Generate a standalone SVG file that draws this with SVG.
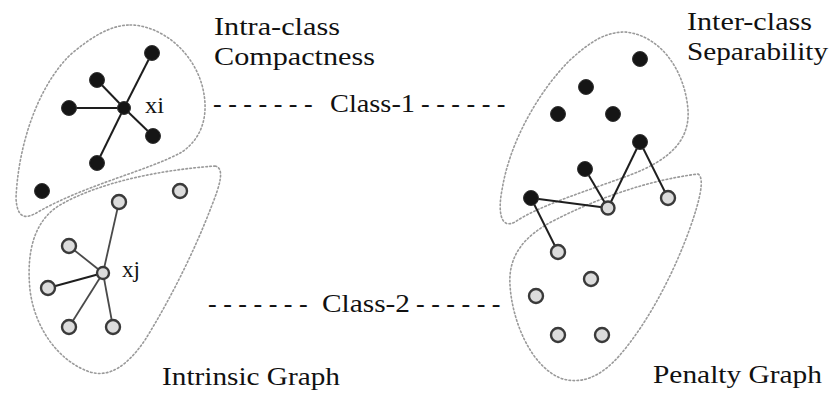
<svg xmlns="http://www.w3.org/2000/svg" width="831" height="393" viewBox="0 0 831 393">
<style>
.blob{fill:none;stroke:#9a9a9a;stroke-width:1.6;stroke-dasharray:1.6 2.4;stroke-linecap:round}
.b{fill:#151515;stroke:#333;stroke-width:1}
.g{fill:#dcdcdc;stroke:#3a3a3a;stroke-width:2.4}
.e{stroke:#1e1e1e;stroke-width:2;fill:none}
.eg{stroke:#4a4a4a;stroke-width:1.8;fill:none}
.t{font-size:26px;fill:#111}
.s{font-size:24px;fill:#111}
</style>
<rect width="831" height="393" fill="#fff"/>
<g id="regions">
<path id="intrinsic-class1" class="blob" d="M130,25 C160,25 192,50 202,85 C210,115 202,138 182,152 C150,170 85,185 38,212 C25,220 17,218 16,198 C18,150 35,90 70,55 C90,38 110,25 130,25 Z"/>
<path id="intrinsic-class2" class="blob" d="M215,166 C225,168 220,185 212,205 C195,250 170,300 145,340 C128,365 110,378 90,372 C60,362 35,330 30,290 C26,250 35,220 60,205 C100,182 160,170 215,166 Z"/>
<path id="penalty-class1" class="blob" d="M625,32 C660,35 685,70 688,110 C690,140 670,160 630,175 C590,190 540,205 515,222 C500,230 498,210 502,190 C510,140 540,90 570,60 C590,42 605,32 625,32 Z"/>
<path id="penalty-class2" class="blob" d="M698,174 C705,178 700,200 690,228 C675,270 650,320 620,355 C600,378 580,385 560,378 C530,365 512,320 510,285 C508,255 525,235 555,220 C600,197 650,180 698,174 Z"/>
</g>
<g id="connectors">
<line class="e" x1="124" y1="108" x2="152" y2="53"/>
<line class="e" x1="124" y1="108" x2="97" y2="80"/>
<line class="e" x1="124" y1="108" x2="69" y2="108"/>
<line class="e" x1="124" y1="108" x2="153" y2="136"/>
<line class="e" x1="124" y1="108" x2="97" y2="163"/>
<line class="eg" x1="103" y1="273" x2="119" y2="202"/>
<line class="eg" x1="103" y1="273" x2="69" y2="246"/>
<line class="e" x1="103" y1="273" x2="48" y2="288"/>
<line class="eg" x1="103" y1="273" x2="69" y2="327"/>
<line class="eg" x1="103" y1="273" x2="113" y2="327"/>
<line class="e" x1="531" y1="198" x2="608" y2="208"/>
<line class="e" x1="531" y1="198" x2="558" y2="252"/>
<line class="e" x1="585" y1="169" x2="608" y2="208"/>
<line class="e" x1="640" y1="142" x2="608" y2="208"/>
<line class="e" x1="640" y1="142" x2="668" y2="198"/>
</g>
<g id="intrinsic-nodes">
<g id="xi"><circle class="b" cx="124" cy="108" r="6.5"/></g>
<g id="i1a"><circle class="b" cx="152" cy="53" r="7.5"/></g>
<g id="i1b"><circle class="b" cx="97" cy="80" r="7.5"/></g>
<g id="i1c"><circle class="b" cx="69" cy="108" r="7.5"/></g>
<g id="i1d"><circle class="b" cx="153" cy="136" r="7.5"/></g>
<g id="i1e"><circle class="b" cx="97" cy="163" r="7.5"/></g>
<g id="i1f"><circle class="b" cx="42" cy="191" r="7.5"/></g>
<g id="xj"><circle class="g" cx="103" cy="273" r="6"/></g>
<g id="i2a"><circle class="g" cx="180" cy="191" r="7"/></g>
<g id="i2b"><circle class="g" cx="119" cy="202" r="7"/></g>
<g id="i2c"><circle class="g" cx="69" cy="246" r="7"/></g>
<g id="i2d"><circle class="g" cx="48" cy="288" r="7"/></g>
<g id="i2e"><circle class="g" cx="69" cy="327" r="7"/></g>
<g id="i2f"><circle class="g" cx="113" cy="327" r="7"/></g>
</g>
<g id="penalty-nodes">
<g id="p1a"><circle class="b" cx="640" cy="59" r="7.5"/></g>
<g id="p1b"><circle class="b" cx="586" cy="87" r="7.5"/></g>
<g id="p1c"><circle class="b" cx="558" cy="114" r="7.5"/></g>
<g id="p1d"><circle class="b" cx="613" cy="114" r="7.5"/></g>
<g id="p1e"><circle class="b" cx="640" cy="142" r="7.5"/></g>
<g id="p1f"><circle class="b" cx="585" cy="169" r="7.5"/></g>
<g id="p1g"><circle class="b" cx="531" cy="198" r="7.5"/></g>
<g id="p2a"><circle class="g" cx="608" cy="208" r="6.5"/></g>
<g id="p2b"><circle class="g" cx="668" cy="198" r="7"/></g>
<g id="p2c"><circle class="g" cx="558" cy="252" r="7"/></g>
<g id="p2d"><circle class="g" cx="591" cy="279" r="7"/></g>
<g id="p2e"><circle class="g" cx="536" cy="296" r="7"/></g>
<g id="p2f"><circle class="g" cx="558" cy="335" r="7"/></g>
<g id="p2g"><circle class="g" cx="602" cy="335" r="7"/></g>
</g>
<g id="labels" font-family="'Liberation Serif', 'Times New Roman', Tinos, serif">
<text class="s" x="145" y="113" textLength="19" lengthAdjust="spacingAndGlyphs">xi</text>
<text class="s" x="122" y="277" textLength="18" lengthAdjust="spacingAndGlyphs">xj</text>
<text class="t" x="214" y="35" textLength="126" lengthAdjust="spacingAndGlyphs">Intra-class</text>
<text class="t" x="214" y="65" textLength="161" lengthAdjust="spacingAndGlyphs">Compactness</text>
<text class="t" x="687" y="30" textLength="125" lengthAdjust="spacingAndGlyphs">Inter-class</text>
<text class="t" x="687" y="60" textLength="141" lengthAdjust="spacingAndGlyphs">Separability</text>
<text class="t" y="112"><tspan x="213">- - - - - - -</tspan><tspan x="330" textLength="85" lengthAdjust="spacingAndGlyphs">Class-1</tspan><tspan x="421">- - - - - -</tspan></text>
<text class="t" y="312"><tspan x="208">- - - - - - -</tspan><tspan x="322" textLength="88" lengthAdjust="spacingAndGlyphs">Class-2</tspan><tspan x="416">- - - - - -</tspan></text>
<text class="t" x="162" y="385" textLength="178" lengthAdjust="spacingAndGlyphs">Intrinsic Graph</text>
<text class="t" x="653" y="383" textLength="169" lengthAdjust="spacingAndGlyphs">Penalty Graph</text>
</g>
</svg>
